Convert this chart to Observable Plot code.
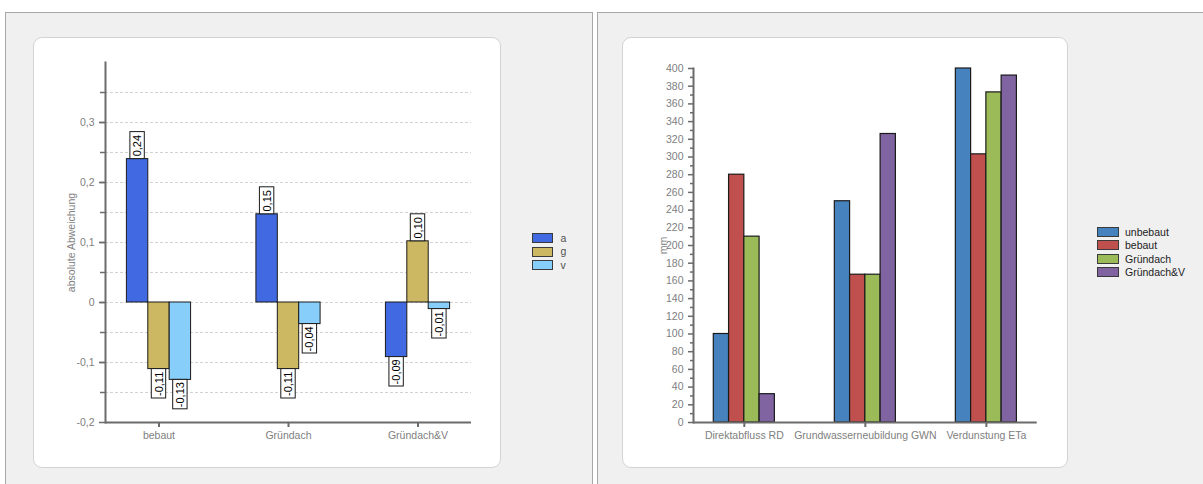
<!DOCTYPE html>
<html>
<head>
<meta charset="utf-8">
<script src="https://cdn.jsdelivr.net/npm/d3@7"></script>
<script src="https://cdn.jsdelivr.net/npm/@observablehq/plot@0.6"></script>
<style>
  html, body { margin: 0; padding: 0; }
  body { width: 1203px; height: 484px; background: #ffffff; position: relative; overflow: hidden;
         font-family: 'Liberation Sans', Arial, sans-serif; }
  .panel { position: absolute; background: #f0f0f0; border: 1px solid #a8a8a8; box-sizing: border-box; }
  .card { position: absolute; background: #ffffff; border: 1.5px solid #d3d3d3; border-radius: 9px; box-sizing: border-box; }
  .chart { position: absolute; }
  .chart svg { overflow: visible; }
  .legend { position: absolute; font-size: 10.5px; line-height: 1; }
  .legend .row { height: 13.4px; display: flex; align-items: center; white-space: nowrap; }
  .legend .sw { height: 10px; border: 1px solid #3a3a3a; box-sizing: border-box; flex: none; }
</style>
</head>
<body>
<div class="panel" style="left:5px; top:12px; width:588px; height:480px;"></div>
<div class="panel" style="left:597px; top:12px; width:620px; height:480px;"></div>
<div class="card" style="left:33px; top:37px; width:468px; height:431px;"></div>
<div class="card" style="left:622px; top:37px; width:446px; height:431px;"></div>
<div class="chart" id="left" style="left:33px; top:37px;"></div>
<div class="chart" id="right" style="left:622px; top:37px;"></div>
<div class="legend" id="legendLeft" style="left:531.5px; top:231.6px; color:#505050;"></div>
<div class="legend" id="legendRight" style="left:1097px; top:225.3px; color:#222222;"></div>
<script>
// ---------- left chart data ----------
const leftCategories = ["bebaut", "Gründach", "Gründach&V"];
const leftSeries = ["a", "g", "v"];
const aValues = [0.239, 0.147, -0.091];
const gValues = [-0.111, -0.111, 0.102];
const vValues = [-0.129, -0.036, -0.011];
const leftColors = ["#4169E1", "#CCB862", "#87CEFA"];
const leftYDomain = [-0.2, 0.4];
const leftLabelTicks = [-0.2, -0.1, 0, 0.1, 0.2, 0.3];
const leftMinorTicks = [-0.15, -0.1, -0.05, 0, 0.05, 0.1, 0.15, 0.2, 0.25, 0.3, 0.35];
const leftYTitle = "absolute Abweichung";

// ---------- right chart data ----------
const rightCategories = ["Direktabfluss RD", "Grundwasserneubildung GWN", "Verdunstung ETa"];
const rightSeries = ["unbebaut", "bebaut", "Gründach", "Gründach&V"];
const unbebautValues = [100, 250, 400];
const bebautValues = [280, 167, 303];
const gruendachValues = [210, 167, 373];
const gruendachVValues = [32, 326, 392];
const rightColors = ["#4682BE", "#C0504D", "#9BBB59", "#8064A2"];
const rightYDomain = [0, 400];
const rightLabelTicks = [0, 20, 40, 60, 80, 100, 120, 140, 160, 180, 200, 220, 240, 260, 280, 300, 320, 340, 360, 380, 400];
const rightMinorTicks = [10, 30, 50, 70, 90, 110, 130, 150, 170, 190, 210, 230, 250, 270, 290, 310, 330, 350, 370, 390];
const rightYTitle = "mm";

// ---------- tables ----------
const leftValueLists = [aValues, gValues, vValues];
const leftData = leftCategories.flatMap((c, i) =>
  leftSeries.map((s, j) => ({cat: c, series: s, value: leftValueLists[j][i]})));
const rightValueLists = [unbebautValues, bebautValues, gruendachValues, gruendachVValues];
const rightData = rightCategories.flatMap((c, i) =>
  rightSeries.map((s, j) => ({cat: c, series: s, value: rightValueLists[j][i]})));

const axisColor = "#6b6b6b";
const textGray = "#808080";
const fontStyle = {fontFamily: "'Liberation Sans', Arial, sans-serif", fontSize: "10.5px", background: "transparent", color: textGray, overflow: "visible"};

const labelFmt = v => v.toFixed(2).replace(".", ",");
const leftTickFmt = v => String(Math.round(v * 10) / 10).replace(".", ",");

// left chart layout
const L = {width: 467, height: 430, marginLeft: 72, marginRight: 29, marginTop: 25, marginBottom: 45};
const LframeW = L.width - L.marginLeft - L.marginRight;

const left = Plot.plot({
  ...L,
  style: fontStyle,
  fx: {domain: leftCategories, paddingInner: 0.174, paddingOuter: 0, round: false, label: null},
  x: {domain: leftSeries, paddingInner: 0, paddingOuter: 1.0, round: false, axis: null},
  y: {domain: leftYDomain, label: null},
  color: {domain: leftSeries, range: leftColors},
  marks: [
    // dashed grid spanning the whole frame (drawn as long ticks from the left axis)
    Plot.axisY({ticks: leftMinorTicks, tickSize: -LframeW, tickFormat: () => "", stroke: "#d2d2d2", strokeDasharray: "3,2", label: null}),
    Plot.barY(leftData, {fx: "cat", x: "series", y: "value", fill: "series", stroke: "#1a1a1a", strokeWidth: 1}),
    Plot.barY(leftData, {fx: "cat", x: "series", y1: "value",
      y2: d => d.value + (d.value >= 0 ? 0.045 : -0.049),
      fill: "white", stroke: "#1a1a1a", strokeWidth: 1, insetLeft: 3.5, insetRight: 3.5}),
    Plot.text(leftData.filter(d => d.value >= 0), {fx: "cat", x: "series", y: "value",
      text: d => labelFmt(d.value), rotate: -90, dy: -13.5, fill: "#000", fontSize: 11}),
    Plot.text(leftData.filter(d => d.value < 0), {fx: "cat", x: "series", y: "value",
      text: d => labelFmt(d.value), rotate: -90, dy: 14.75, fill: "#000", fontSize: 11}),
    Plot.axisY({ticks: leftMinorTicks, tickSize: 5, tickFormat: () => "", stroke: axisColor, strokeWidth: 1.5, label: null}),
    Plot.axisY({ticks: leftLabelTicks, tickSize: 6, tickPadding: 5, tickFormat: leftTickFmt,
      stroke: axisColor, strokeWidth: 1.5, fill: textGray,
      label: leftYTitle, labelAnchor: "center", labelOffset: 38, labelArrow: "none"}),
    Plot.axisFx({anchor: "bottom", tickSize: 5, tickPadding: 4, stroke: axisColor, strokeWidth: 2, fill: textGray, label: null}),
    // axis lines
    Plot.axisY({ticks: [leftYDomain[0]], tickSize: -LframeW, tickFormat: () => "", stroke: axisColor, strokeWidth: 2, label: null}),
    Plot.frame({anchor: "left", stroke: axisColor, strokeWidth: 2, facet: "super"})
  ]
});
document.getElementById("left").appendChild(left);

// right chart layout
const R = {width: 445, height: 430, marginLeft: 71, marginRight: 30.3, marginTop: 31, marginBottom: 45};
const RframeW = R.width - R.marginLeft - R.marginRight;

const right = Plot.plot({
  ...R,
  style: fontStyle,
  fx: {domain: rightCategories, paddingInner: 0.16, paddingOuter: 0, round: false, label: null},
  x: {domain: rightSeries, paddingInner: 0, paddingOuter: 1.33, round: false, axis: null},
  y: {domain: rightYDomain, label: null},
  color: {domain: rightSeries, range: rightColors},
  marks: [
    Plot.barY(rightData, {fx: "cat", x: "series", y: "value", fill: "series", stroke: "#1a1a1a", strokeWidth: 1.2}),
    Plot.axisY({ticks: rightMinorTicks, tickSize: 3, tickFormat: () => "", stroke: axisColor, strokeWidth: 1.5, label: null}),
    Plot.axisY({ticks: rightLabelTicks, tickSize: 5, tickPadding: 5, tickFormat: d => String(d),
      stroke: axisColor, strokeWidth: 1.5, fill: textGray,
      label: rightYTitle, labelAnchor: "center", labelOffset: 34, labelArrow: "none"}),
    Plot.axisFx({anchor: "bottom", tickSize: 5, tickPadding: 4, stroke: axisColor, strokeWidth: 2, fill: textGray, label: null}),
    Plot.axisY({ticks: [rightYDomain[0]], tickSize: -RframeW, tickFormat: () => "", stroke: axisColor, strokeWidth: 2, label: null}),
    Plot.frame({anchor: "left", stroke: axisColor, strokeWidth: 2, facet: "super"})
  ]
});
document.getElementById("right").appendChild(right);

// ---------- legends ----------
function buildLegend(id, series, colors, swW, gap) {
  const el = document.getElementById(id);
  series.forEach((s, i) => {
    const row = document.createElement("div");
    row.className = "row";
    const sw = document.createElement("div");
    sw.className = "sw";
    sw.style.width = swW + "px";
    sw.style.background = colors[i];
    sw.style.marginRight = gap + "px";
    const t = document.createElement("span");
    t.textContent = s;
    row.appendChild(sw); row.appendChild(t);
    el.appendChild(row);
  });
}
buildLegend("legendLeft", leftSeries, leftColors, 21, 8);
buildLegend("legendRight", rightSeries, rightColors, 22, 6);
</script>
</body>
</html>
